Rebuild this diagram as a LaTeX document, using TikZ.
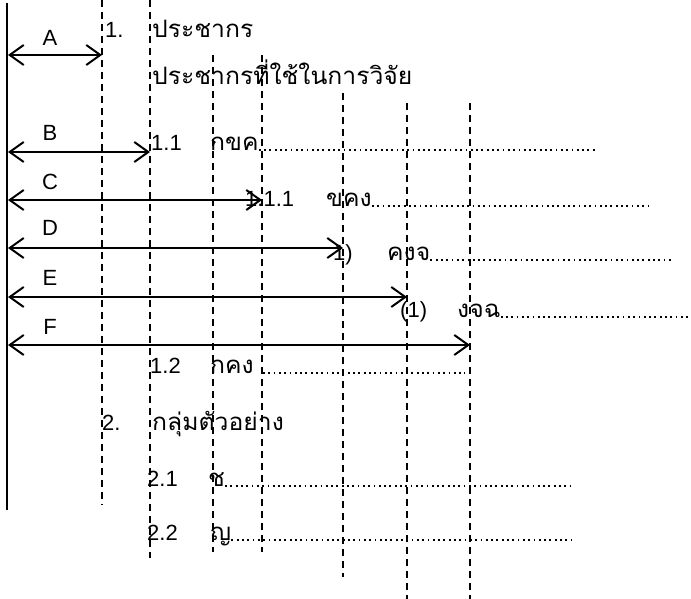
\documentclass[tikz,border=0pt]{standalone}
\usepackage{fontspec}
\setmainfont{Liberation Sans}
\newfontfamily\thaifont[Script=Thai, FakeStretch=1.03]{Loma}
\usetikzlibrary{arrows.meta}
\begin{document}
\begin{tikzpicture}[
    x=1pt, y=-1pt,
    every node/.style={inner sep=0pt},
    num/.style={anchor=base west, font=\fontsize{22}{24}\selectfont},
    txt/.style={anchor=base west, font=\thaifont\fontsize{24}{28}\selectfont},
    lbl/.style={anchor=center, font=\fontsize{22}{24}\selectfont},
    guide/.style={line width=1.7pt, dash pattern=on 7pt off 5pt},
    leader/.style={line width=1.8pt, dash pattern=on 1.8pt off 3.5pt},
    dim/.style={line width=2pt, {Straight Barb[length=14pt, width=20pt, line width=2pt]}-{Straight Barb[length=14pt, width=20pt, line width=2pt]}}
]
\useasboundingbox (0,0) rectangle (691,599);
% เส้นขอบซ้าย
\coordinate (wt) at (7,3);
\coordinate (wb) at (7,510);
\draw[line width=2pt] (wt) -- (wb);
% เส้นประแนวตั้ง
\foreach \i/\x/\a/\b in {1/102/0/505, 2/150/0/558, 3/213/55/552, 4/262/55/552,
                         5/343/93/577, 6/407/103/599, 7/470/103/599} {
    \coordinate (gt\i) at (\x,\a);
    \coordinate (gb\i) at (\x,\b);
    \draw[guide] (gt\i) -- (gb\i);
}
% ลูกศรระยะ
\foreach \n/\y/\x/\ly in {A/55/102/38, B/152/150/133, C/200/262/182,
                          D/248/343/228, E/297/407/278, F/345/470/327} {
    \coordinate (s\n) at (8,\y);
    \coordinate (e\n) at (\x,\y);
    \draw[dim] (s\n) -- (e\n);
    \node[lbl] (l\n) at (50,\ly) {\n};
}
% ข้อความ
\node[num] (n1) at (105,38) {1.};
\node[txt] (t1) at (152,38) {ประชากร};
\node[txt] (t1b) at (152,85) {ประชากรที่ใช้ในการวิจัย};
\node[num] (n11) at (151,150) {1.1};
\node[txt] (t11) at (210,150) {กขค};
\node[num] (n111) at (245,206) {1.1.1};
\node[txt] (t111) at (326,206) {ขคง};
\node[num] (n1p) at (333,260) {1)};
\node[txt] (t1p) at (387,260) {คงจ};
\node[num] (n1pp) at (400,317) {(1)};
\node[txt] (t1pp) at (457,317) {งจฉ};
\node[num] (n12) at (150,373) {1.2};
\node[txt] (t12) at (210,373) {กคง};
\node[num] (n2) at (102,430) {2.};
\node[txt] (t2) at (152,430) {กลุ่มตัวอย่าง};
\node[num] (n21) at (147,486) {2.1};
\node[txt] (t21) at (208,486) {ช};
\node[num] (n22) at (147,540) {2.2};
\node[txt] (t22) at (210,540) {ญ};
% เส้นไข่ปลา
\draw[leader] (t11.base east) -- (t11.base east -| 597,0);
\draw[leader] (t111.base east) -- (t111.base east -| 652,0);
\draw[leader] (t1p.base east) -- (t1p.base east -| 673,0);
\draw[leader] (t1pp.base east) -- (t1pp.base east -| 691,0);
\draw[leader] (t12.base east -| 263,0) -- (t12.base east -| 465,0);
\draw[leader] (t21.base east) -- (t21.base east -| 572,0);
\draw[leader] (t22.base east) -- (t22.base east -| 572,0);
\end{tikzpicture}
\end{document}
